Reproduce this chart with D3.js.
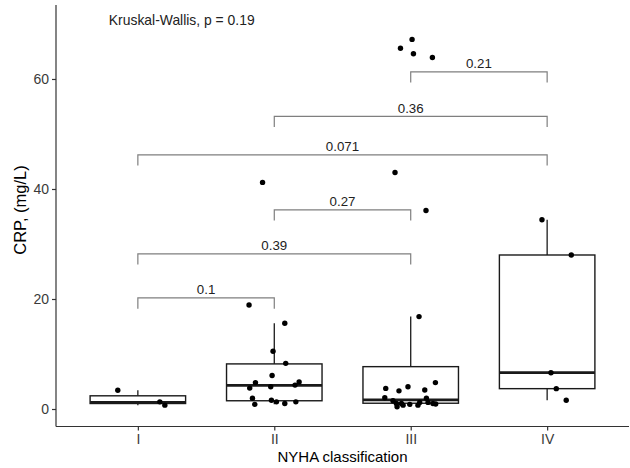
<!DOCTYPE html>
<html>
<head>
<meta charset="utf-8">
<script src="https://cdn.jsdelivr.net/npm/d3@7"></script>
<style>
  html, body { margin: 0; padding: 0; background: #fff; }
  svg { display: block; font-family: "Liberation Sans", Arial, sans-serif; }
</style>
</head>
<body>
<div id="chart"></div>
<script>
// NYHA class boxplot of CRP with jittered points and pairwise p-values
const groups = ["I", "II", "III", "IV"];
const yTicks = [0, 20, 40, 60];

// box statistics: whisker low, Q1, median, Q3, whisker high
const boxLow = [0.7, 0.85, 0.4, 1.6];
const boxQ1 = [1.0, 1.5, 1.05, 3.7];
const boxMed = [1.2, 4.3, 1.65, 6.6];
const boxQ3 = [2.4, 8.2, 7.7, 28.0];
const boxHigh = [3.4, 15.6, 16.8, 34.4];

// jittered observations: group, CRP value, horizontal jitter (fraction of category step)
const ptGroup = [
  "I", "I", "I",
  "II", "II", "II", "II", "II", "II", "II", "II", "II", "II", "II", "II", "II", "II", "II", "II", "II",
  "III", "III", "III", "III", "III", "III", "III", "III", "III", "III", "III", "III", "III",
  "III", "III", "III", "III", "III", "III", "III", "III", "III", "III", "III", "III",
  "IV", "IV", "IV", "IV", "IV"
];
const ptValue = [
  3.4, 1.3, 0.7,
  18.9, 15.6, 10.5, 8.3, 6.1, 4.8, 3.8, 4.05, 4.35, 4.9, 1.95, 0.85, 1.6, 1.3, 1.0, 1.3, 41.2,
  65.6, 67.2, 64.6, 63.9, 43.0, 36.1, 16.8, 3.75, 3.3, 4.05, 3.45, 4.8, 2.05,
  1.5, 1.0, 0.4, 1.0, 0.7, 0.85, 0.7, 1.2, 1.95, 1.2, 1.0, 0.9,
  34.4, 28.0, 6.6, 3.7, 1.6
];
const ptJitter = [
  -0.147, 0.161, 0.198,
  -0.185, 0.077, -0.009, 0.084, -0.016, -0.138, -0.18, -0.026, 0.152, 0.182, -0.16, -0.143, -0.021, 0.016, 0.077, 0.158, -0.086,
  -0.075, 0.01, 0.02, 0.159, -0.115, 0.112, 0.061, -0.183, -0.086, -0.02, 0.103, 0.181, -0.19,
  -0.13, -0.105, -0.1, -0.068, -0.056, -0.007, 0.053, 0.066, 0.115, 0.127, 0.163, 0.183,
  -0.038, 0.177, 0.028, 0.067, 0.14
];

// pairwise comparisons (Wilcoxon p-values) and bracket heights
const cmpFrom = ["I", "I", "II", "I", "II", "III"];
const cmpTo = ["II", "III", "III", "IV", "IV", "IV"];
const cmpLabel = ["0.1", "0.39", "0.27", "0.071", "0.36", "0.21"];
const cmpY = [20.2, 28.2, 36.2, 46.2, 53.2, 61.3];

const globalLabel = "Kruskal-Wallis, p = 0.19";
const globalY = 69.8;

const W = 630, H = 468;
const m = { t: 5, r: 1, b: 41.5, l: 56 };
const svg = d3.select("#chart").append("svg").attr("width", W).attr("height", H);

const x = d3.scalePoint().domain(groups).range([m.l, W - m.r]).padding(0.6);
const step = x.step();
const y = d3.scaleLinear().domain([-3.18, 73.45]).range([H - m.b, m.t]);

// axes
const axisCol = "#333";
const yAxis = svg.append("g").attr("transform", `translate(${m.l},0)`)
  .call(d3.axisLeft(y).tickValues(yTicks).tickSize(4).tickPadding(3));
const xAxis = svg.append("g").attr("transform", `translate(0,${H - m.b})`)
  .call(d3.axisBottom(x).tickSize(4).tickPadding(4));
[yAxis, xAxis].forEach(g => {
  g.select(".domain").attr("stroke", axisCol).attr("stroke-width", 1.2);
  g.selectAll(".tick line").attr("stroke", axisCol).attr("stroke-width", 1.2);
  g.selectAll(".tick text").attr("fill", "#3a3a3a").style("font-size", "14px").style("font-family", "inherit");
});
yAxis.select(".domain").attr("d", `M0,${m.t}V${H - m.b}`);
xAxis.select(".domain").attr("d", `M${m.l},0H${W - m.r}`);

svg.append("text").attr("x", (m.l + W - m.r) / 2).attr("y", 462)
  .attr("text-anchor", "middle").style("font-size", "15px").attr("fill", "#000")
  .text("NYHA classification");
svg.append("text").attr("transform", `translate(26,210) rotate(-90)`)
  .attr("text-anchor", "middle").style("font-size", "16.5px").attr("fill", "#000")
  .text("CRP, (mg/L)");

// boxes
const bw = step * 0.7;
groups.forEach((g, i) => {
  const cx = x(g), bx = svg.append("g");
  bx.append("line").attr("x1", cx).attr("x2", cx).attr("y1", y(boxQ3[i])).attr("y2", y(boxHigh[i]))
    .attr("stroke", "#1a1a1a").attr("stroke-width", 1.3);
  bx.append("line").attr("x1", cx).attr("x2", cx).attr("y1", y(boxQ1[i])).attr("y2", y(boxLow[i]))
    .attr("stroke", "#1a1a1a").attr("stroke-width", 1.3);
  bx.append("rect").attr("x", cx - bw / 2).attr("y", y(boxQ3[i])).attr("width", bw)
    .attr("height", y(boxQ1[i]) - y(boxQ3[i]))
    .attr("fill", "#fff").attr("stroke", "#1a1a1a").attr("stroke-width", 1.4);
  bx.append("line").attr("x1", cx - bw / 2).attr("x2", cx + bw / 2).attr("y1", y(boxMed[i])).attr("y2", y(boxMed[i]))
    .attr("stroke", "#1a1a1a").attr("stroke-width", 2.8);
});

// points
svg.append("g").selectAll("circle").data(ptValue).join("circle")
  .attr("cx", (d, i) => x(ptGroup[i]) + ptJitter[i] * step)
  .attr("cy", d => y(d))
  .attr("r", 2.7).attr("fill", "#000");

// brackets
const tick = 1.95;
const br = svg.append("g");
cmpLabel.forEach((lab, i) => {
  const x1 = x(cmpFrom[i]), x2 = x(cmpTo[i]), yy = y(cmpY[i]), yd = y(cmpY[i] - tick);
  br.append("path").attr("d", `M${x1},${yd}V${yy}H${x2}V${yd}`)
    .attr("fill", "none").attr("stroke", "#7f7f7f").attr("stroke-width", 1.2);
  br.append("text").attr("x", (x1 + x2) / 2).attr("y", yy - 3.8)
    .attr("text-anchor", "middle").style("font-size", "13.3px").attr("fill", "#222").text(lab);
});

svg.append("text").attr("x", x("I") - 29).attr("y", y(globalY))
  .style("font-size", "13.9px").attr("fill", "#222").text(globalLabel);
</script>
</body>
</html>
